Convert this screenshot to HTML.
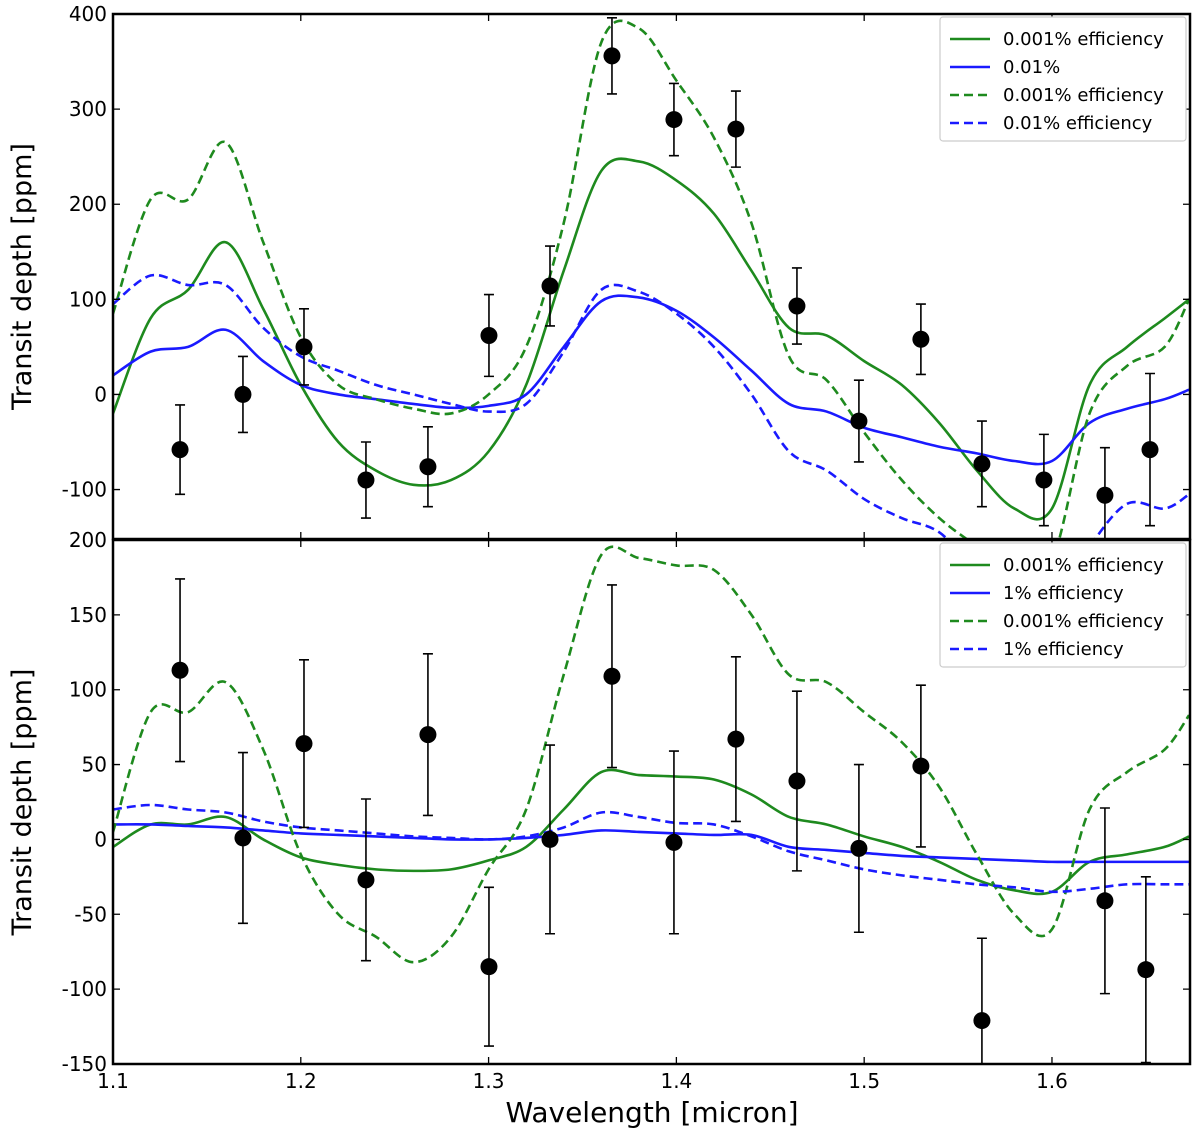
<!DOCTYPE html>
<html><head><meta charset="utf-8"><style>
body{margin:0;background:#fff;font-family:"Liberation Sans","DejaVu Sans",sans-serif}
svg text{font-family:"DejaVu Sans","Liberation Sans",sans-serif}
</style></head><body>
<svg id="chart" width="1200" height="1137" xmlns="http://www.w3.org/2000/svg"></svg>
<script>
const lam=[1.10,1.12,1.14,1.16,1.18,1.20,1.22,1.24,1.26,1.28,1.30,1.32,1.34,1.36,1.38,1.40,1.42,1.44,1.46,1.48,1.50,1.52,1.54,1.56,1.58,1.60,1.62,1.64,1.66,1.673];
const topGreenSolid=[-20,80,110,160,90,10,-50,-80,-95,-90,-60,10,130,235,245,225,190,130,70,62,35,10,-30,-80,-120,-120,10,50,80,100];
const topGreenDash=[85,205,205,265,160,60,10,-5,-15,-20,0,50,180,370,385,330,270,180,40,15,-40,-90,-130,-160,-190,-175,-20,30,50,100];
const topBlueSolid=[20,45,50,68,35,10,0,-5,-10,-14,-12,0,50,98,102,88,60,25,-10,-18,-35,-45,-55,-62,-70,-70,-30,-15,-5,5];
const topBlueDash=[95,125,115,115,70,40,25,10,0,-10,-18,-10,45,110,108,85,50,0,-60,-80,-110,-130,-145,-185,-210,-220,-160,-115,-120,-105];
const botGreenSolid=[-5,10,10,15,0,-12,-17,-20,-21,-20,-14,-5,20,45,43,42,40,30,15,10,2,-5,-15,-27,-34,-35,-15,-10,-5,2];
const botGreenDash=[5,85,85,105,60,-10,-50,-65,-82,-65,-20,20,110,190,188,183,180,150,110,105,85,65,35,-10,-50,-60,20,45,60,83];
const botBlueSolid=[10,10,9,8,6,4,3,2,1,0,0,1,3,6,5,4,3,3,-5,-7,-9,-11,-12,-13,-14,-15,-15,-15,-15,-15];
const botBlueDash=[20,23,20,18,12,8,6,4,2,1,0,2,8,18,15,11,10,2,-8,-14,-20,-24,-27,-30,-32,-35,-33,-30,-30,-30];
const topPtsX=[1.1357,1.1692,1.2017,1.2347,1.2677,1.3002,1.3327,1.3657,1.3987,1.4317,1.4642,1.4972,1.5302,1.5627,1.5957,1.6282,1.6522];
const topPtsY=[-58,0,50,-90,-76,62,114,356,289,279,93,-28,58,-73,-90,-106,-58];
const topPtsE=[47,40,40,40,42,43,42,40,38,40,40,43,37,45,48,50,80];
const botPtsX=[1.1357,1.1692,1.2017,1.2347,1.2677,1.3002,1.3327,1.3657,1.3987,1.4317,1.4642,1.4972,1.5302,1.5627,1.6282,1.6500];
const botPtsY=[113,1,64,-27,70,-85,0,109,-2,67,39,-6,49,-121,-41,-87];
const botPtsE=[61,57,56,54,54,53,63,61,61,55,60,56,54,55,62,62];
const topTicks=[-100,0,100,200,300,400];
const botTicks=[-150,-100,-50,0,50,100,150,200];
const xTicks=[1.1,1.2,1.3,1.4,1.5,1.6];
const topLegend=["0.001% efficiency","0.01%","0.001% efficiency","0.01% efficiency"];
const botLegend=["0.001% efficiency","1% efficiency","0.001% efficiency","1% efficiency"];

const NS="http://www.w3.org/2000/svg",svg=document.getElementById('chart');
const X0=113,X1=1190,LMIN=1.1,LMAX=1.6735;
const xs=v=>X0+(v-LMIN)/(LMAX-LMIN)*(X1-X0);
function mk(t,a,p){const e=document.createElementNS(NS,t);for(const k in a)e.setAttribute(k,a[k]);(p||svg).appendChild(e);return e;}
function smooth(pts){let d=`M${pts[0][0]},${pts[0][1]}`;for(let i=0;i<pts.length-1;i++){const p0=pts[Math.max(i-1,0)],p1=pts[i],p2=pts[i+1],p3=pts[Math.min(i+2,pts.length-1)];d+=` C${p1[0]+(p2[0]-p0[0])/6},${p1[1]+(p2[1]-p0[1])/6} ${p2[0]-(p3[0]-p1[0])/6},${p2[1]-(p3[1]-p1[1])/6} ${p2[0]},${p2[1]}`;}return d;}
function panel(id,top,bot,vmin,vmax,ticks,series,px,py,pe,legend,showX){
  const ys=v=>bot-(v-vmin)/(vmax-vmin)*(bot-top);
  const g=mk('g',{});
  
  
  mk('clipPath',{id:id+'clip'},g);
  mk('rect',{x:X0,y:top,width:X1-X0,height:bot-top},g.lastChild);
  const cg=mk('g',{'clip-path':`url(#${id}clip)`},g);
  series.forEach(s=>{const p=mk('path',{d:smooth(lam.map((l,i)=>[xs(l),ys(s.v[i])])),fill:'none',stroke:s.c,'stroke-width':2.6,'stroke-dasharray':s.dash?'9,5':'none'},cg);
    
    });
  px.forEach((l,i)=>{const x=xs(l),y=ys(py[i]);
    const e=mk('path',{d:`M${x},${ys(py[i]-pe[i])}V${ys(py[i]+pe[i])}M${x-5},${ys(py[i]-pe[i])}h10M${x-5},${ys(py[i]+pe[i])}h10`,stroke:'#000','stroke-width':1.6,fill:'none'},cg);
    
    
    const c=mk('circle',{cx:x,cy:y,r:8.5,fill:'#000'},cg);
    
    });
  ticks.forEach(t=>{const y=ys(t);mk('path',{d:`M${X0},${y}h7M${X1},${y}h-7`,stroke:'#000','stroke-width':1.3},g);
    const tx=mk('text',{x:X0-6,y:y+7,'text-anchor':'end','font-size':20},g);tx.textContent=t;
    
    });
  xTicks.forEach(t=>{const x=xs(t);mk('path',{d:`M${x},${bot}v-7M${x},${top}v7`,stroke:'#000','stroke-width':1.3},g);
    if(showX){const tx=mk('text',{x:x,y:bot+24,'text-anchor':'middle','font-size':20},g);tx.textContent=t.toFixed(1);
      
      }});
  mk('rect',{x:X0,y:top,width:X1-X0,height:bot-top,fill:'none',stroke:'#000','stroke-width':2.5},g);
  const yl=mk('text',{x:0,y:0,'font-size':27,'text-anchor':'middle',transform:`translate(31,${(top+bot)/2}) rotate(-90)`},g);
  yl.textContent='Transit depth [ppm]';
  
  
  const lg=mk('g',{},g);
  
  
  mk('rect',{x:940,y:top+3,width:246,height:legend.length*28+12,fill:'#fff',stroke:'#ccc','stroke-width':1.2,rx:3},lg);
  legend.forEach((t,i)=>{const y=top+25+i*28,s=series[i];
    mk('line',{x1:950,x2:990,y1:y,y2:y,stroke:s.c,'stroke-width':2.6,'stroke-dasharray':s.dash?'9,5':'none'},lg);
    const tx=mk('text',{x:1003,y:y+6,'font-size':18},lg);tx.textContent=t;
    
    });
}
panel('top',14,539,-152,400,topTicks,[
 {v:topGreenSolid,c:'#1e8a1e',dash:false,n:'green-solid-line'},{v:topBlueSolid,c:'#1a1aff',dash:false,n:'blue-solid-line'},
 {v:topGreenDash,c:'#1e8a1e',dash:true,n:'green-dashed-line'},{v:topBlueDash,c:'#1a1aff',dash:true,n:'blue-dashed-line'}],
 topPtsX,topPtsY,topPtsE,topLegend,false);
panel('bottom',540,1064,-150,200,botTicks,[
 {v:botGreenSolid,c:'#1e8a1e',dash:false,n:'green-solid-line'},{v:botBlueSolid,c:'#1a1aff',dash:false,n:'blue-solid-line'},
 {v:botGreenDash,c:'#1e8a1e',dash:true,n:'green-dashed-line'},{v:botBlueDash,c:'#1a1aff',dash:true,n:'blue-dashed-line'}],
 botPtsX,botPtsY,botPtsE,botLegend,true);
const xl=mk('text',{x:652,y:1122,'font-size':28,'text-anchor':'middle'});
xl.textContent='Wavelength [micron]';


</script>
</body></html>
